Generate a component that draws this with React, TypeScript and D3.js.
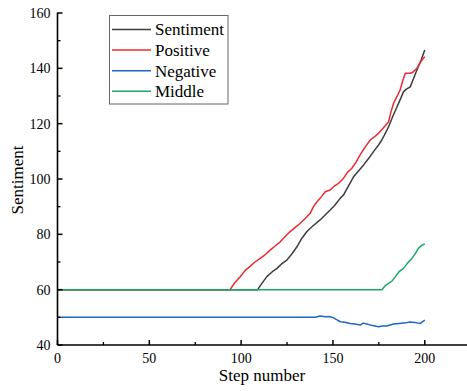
import React from "react";
import * as d3 from "d3";

const seriesNames = ["Sentiment", "Positive", "Negative", "Middle"];
const seriesColors = ["#3d3d3d", "#ee2a30", "#1e66c8", "#1aa86a"];

const sentimentData: [number, number][] = [
  [0, 60], [109, 60], [111, 62], [114, 64.7], [117, 66.5], [119.5, 67.7], [122, 69.3], [124.9, 70.7],
  [127.5, 72.8], [130.4, 75.5], [133, 78.5], [135.8, 81], [139, 83], [143, 85.2], [146, 87.2],
  [148.5, 88.8], [151, 90.5], [153.9, 93], [155.7, 94.2], [158.5, 97.5], [161.2, 100.8],
  [164, 103], [166.6, 105], [169.5, 107.5], [172.1, 109.9], [174.5, 112], [176.6, 114.1],
  [178.5, 116.5], [180.3, 118.9], [182.5, 122.5], [184.9, 126.1], [186.5, 128.5], [188.4, 131.5],
  [190, 132.5], [192.1, 133.3], [194, 136.5], [195.7, 139.4], [198, 143], [200, 146.6],
];

const positiveData: [number, number][] = [
  [0, 60], [94, 60], [96.5, 62.5], [99.5, 64.7], [102, 66.8], [105, 68.5], [107.5, 70], [110.4, 71.3],
  [113, 72.6], [115.8, 74.3], [118.5, 75.8], [121.3, 77.3], [124, 79.2], [126.7, 81], [129.5, 82.5],
  [132.2, 84], [135, 85.8], [137.6, 87.6], [139.4, 90], [141, 91.5], [143, 93], [145.8, 95.4],
  [148.5, 96], [150.3, 97.2], [153, 98.4], [155.7, 100.2], [158, 102.5], [160.3, 103.9],
  [162.5, 106], [164.8, 108.7], [167.5, 111.5], [170.3, 114.1], [172.5, 115.2], [174.8, 116.5],
  [177.5, 118.5], [180.3, 120.7], [181.5, 124], [183, 127.4], [185, 130], [186.6, 132.2],
  [188, 135.5], [189.4, 138.2], [192.1, 138.2], [193.5, 138.6], [195.7, 140], [197, 141.5],
  [198.5, 143], [200, 144.2],
];

const negativeData: [number, number][] = [
  [0, 50], [140.3, 50], [143, 50.5], [146, 50.2], [148, 50.3], [150.3, 49.8], [152, 49.2],
  [154, 48.4], [156.5, 48.2], [159.4, 47.8], [162, 47.6], [164.8, 47.2], [166.5, 47.9],
  [168.5, 47.6], [171, 47.1], [174.8, 46.6], [177, 46.9], [179.4, 46.9], [181, 47.2],
  [183, 47.6], [186, 47.8], [189.4, 48], [192, 48.3], [195.7, 48], [197.6, 47.8], [200, 49],
];

const middleData: [number, number][] = [
  [0, 60], [176.7, 60], [178.5, 61.5], [180.3, 62.3], [182, 63], [184, 64.7], [186, 66.5],
  [188.4, 67.7], [190.5, 69.5], [193, 71.3], [195, 73.2], [196.6, 75], [198.5, 76.1], [200, 76.5],
];

const allData = [sentimentData, positiveData, negativeData, middleData];

const xMajorTicks = [0, 50, 100, 150, 200];
const xMinorTicks = [25, 75, 125, 175];
const yMajorTicks = [40, 60, 80, 100, 120, 140, 160];
const yMinorTicks = [50, 70, 90, 110, 130, 150];

export default function App() {
  const W = 467;
  const H = 391;
  const left = 57.5;
  const right = 467;
  const top = 13;
  const bottom = 345;
  const x = d3.scaleLinear().domain([0, 223]).range([left, right]);
  const y = d3.scaleLinear().domain([40, 160]).range([bottom, top]);
  const line = d3
    .line<[number, number]>()
    .x((d) => x(d[0]))
    .y((d) => y(d[1]))
    .curve(d3.curveLinear);
  const font = "'Liberation Serif', 'Times New Roman', serif";

  return (
    <svg
      width={W}
      height={H}
      style={{ position: "absolute", left: 0, top: 0, background: "#fff" }}
      fontFamily={font}
    >
      {allData.map((data, i) => (
        <path
          key={seriesNames[i]}
          d={line(data) || ""}
          fill="none"
          stroke={seriesColors[i]}
          strokeWidth={1.5}
          strokeLinejoin="round"
        />
      ))}
      {/* axes */}
      <line x1={left} x2={left} y1={top - 0.5} y2={bottom} stroke="#000" strokeWidth={1.6} />
      <line x1={left} x2={right} y1={bottom} y2={bottom} stroke="#000" strokeWidth={1.6} />
      {yMajorTicks.map((t) => (
        <g key={"ym" + t}>
          <line x1={left} x2={left + 5} y1={y(t)} y2={y(t)} stroke="#000" strokeWidth={1.5} />
          <text x={left - 7} y={y(t)} dy="0.35em" textAnchor="end" fontSize={14}>
            {t}
          </text>
        </g>
      ))}
      {yMinorTicks.map((t) => (
        <line key={"yn" + t} x1={left} x2={left + 3} y1={y(t)} y2={y(t)} stroke="#000" strokeWidth={1.3} />
      ))}
      {xMajorTicks.map((t) => (
        <g key={"xm" + t}>
          <line x1={x(t)} x2={x(t)} y1={bottom} y2={bottom - 5} stroke="#000" strokeWidth={1.5} />
          <text x={x(t)} y={bottom + 18} textAnchor="middle" fontSize={14}>
            {t}
          </text>
        </g>
      ))}
      {xMinorTicks.map((t) => (
        <line key={"xn" + t} x1={x(t)} x2={x(t)} y1={bottom} y2={bottom - 3} stroke="#000" strokeWidth={1.3} />
      ))}
      <text x={262} y={381} textAnchor="middle" fontSize={17}>
        Step number
      </text>
      <text
        transform={`translate(23, ${180}) rotate(-90)`}
        textAnchor="middle"
        fontSize={17}
      >
        Sentiment
      </text>
      {/* legend */}
      <rect x={109.5} y={15.5} width={118.5} height={88.5} fill="#fff" stroke="#666" strokeWidth={1} />
      {seriesNames.map((name, i) => {
        const cy = 29.5 + i * 20.6;
        return (
          <g key={"lg" + name}>
            <line x1={112} x2={151} y1={cy} y2={cy} stroke={seriesColors[i]} strokeWidth={1.5} />
            <text x={155} y={cy} dy="0.35em" fontSize={17}>
              {name}
            </text>
          </g>
        );
      })}
    </svg>
  );
}
